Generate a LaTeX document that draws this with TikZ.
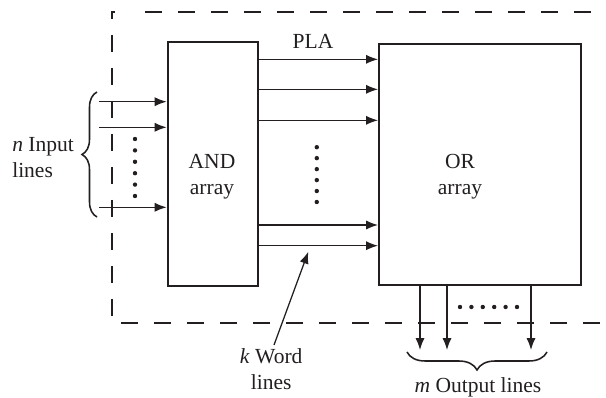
\documentclass[tikz,border=0pt]{standalone}
\usepackage{fontspec}
\setmainfont{Liberation Serif}
\usetikzlibrary{arrows.meta,decorations.pathreplacing}
\definecolor{ink}{HTML}{231F20}

\begin{document}
\begin{tikzpicture}[color=ink,font=\fontsize{15.3pt}{18.5pt}\selectfont,
    arr/.style={line width=0.9pt,-{Latex[length=8.5pt,width=6.5pt]}},
    block/.style={draw,line width=1.4pt,inner sep=0pt},
    border/.style={line width=1.2pt,dash pattern=on 0.425cm off 0.4cm},
    curly/.style={line width=1.1pt,decorate,decoration={brace,amplitude=#1}}]
    \useasboundingbox (0,0) rectangle (15.15,9.925);
    \draw[border] (3.625,9.625)--(15.15,9.625);
    \draw[border,dash phase=0.175cm] (2.875,9.625)--(2.8,9.625)--(2.8,1.85)--(15.15,1.85);
    \node[block,minimum width=2.26cm,minimum height=6.09cm] (AND) at (5.32,5.83) {};
    \node[block,minimum width=5.05cm,minimum height=6.025cm] (OR) at (12,5.81) {};
    \node[align=center] (andtxt) at (5.3,5.5) {AND\\array};
    \node[align=center] (ortxt) at (11.5,5.5) {OR\\array};
    \node (pla) at (7.825,8.9) {PLA};
    \foreach \y [count=\i] in {7.3825,6.7425,4.7425}{
        \coordinate (in\i) at (2.475,\y);
        \draw[arr] (in\i)--(in\i -| AND.west);
    }
    \foreach \y [count=\i] in {8.4417,7.6917,6.9167,4.3,3.7825}{
        \coordinate (wl\i) at (0,\y);
        \draw[arr] (AND.east |- wl\i)--(OR.west |- wl\i);
    }
    \foreach \x [count=\i] in {10.5,11.175,13.275}{
        \coordinate (out\i) at (\x,1.175);
        \draw[arr] (out\i |- OR.south)--(out\i);
    }
    \foreach \i in {0,...,5}{
        \fill (3.375,6.45-0.285*\i) circle (0.055);
        \fill (7.92,6.245-0.274*\i) circle (0.055);
        \fill (11.5+0.285*\i,2.25) circle (0.055);
    }
    \draw[curly=0.375cm] (2.425,4.5)--(2.425,7.625);
    \node[anchor=west,align=left,inner sep=0pt] (nlbl) at (0.3,5.99) {\textit{n} Input\\lines};
    \draw[curly=0.45cm] (13.675,1.125)--(10.175,1.125);
    \node (mlbl) at (11.95,0.25) {\textit{m} Output lines};
    \node[anchor=north,align=center,inner sep=2pt] (klbl) at (6.78,1.3) {\textit{k} Word\\lines};
    \coordinate (kptr) at (7.7075,3.6325);
    \draw[arr] ([xshift=0.07cm]klbl.north)--(kptr);
\end{tikzpicture}
\end{document}
